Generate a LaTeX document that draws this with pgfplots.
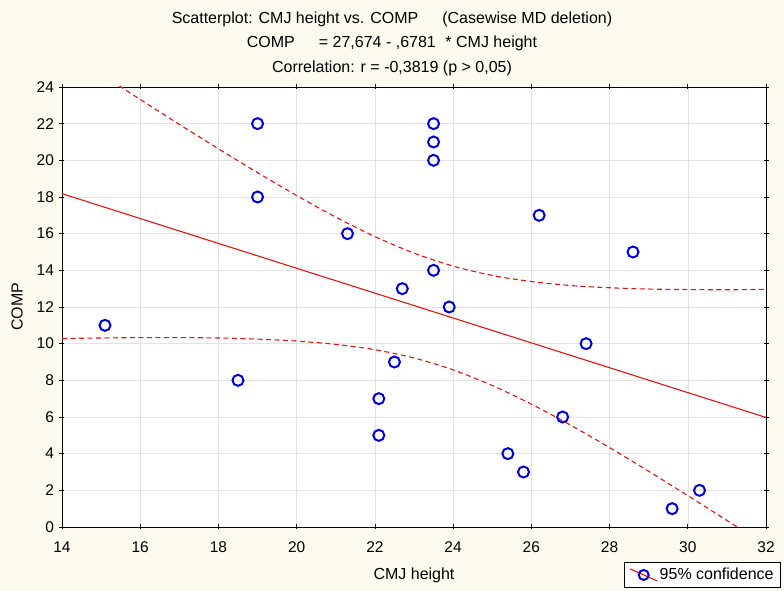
\documentclass[border=0pt]{standalone}
\usepackage{pgfplots}
\pgfplotsset{compat=1.18}
\usepackage{fontspec}
\setmainfont{Liberation Sans}
\definecolor{bgcream}{RGB}{253,250,240}
\definecolor{fitred}{RGB}{225,20,20}
\definecolor{ptblue}{RGB}{0,0,220}
\begin{document}
\begin{tikzpicture}[x=1pt,y=1pt]
\fill[bgcream] (0,0) rectangle (784,591);
\begin{axis}[
  at={(62pt,64pt)}, anchor=south west,
  scale only axis, width=704pt, height=440pt,
  xmin=14, xmax=32, ymin=0, ymax=24,
  xtick={14,16,...,32}, ytick={0,2,...,24},
  axis background/.style={fill=white},
  axis line style={black, line width=0.9pt},
  grid=major, major grid style={gray!22, line width=0.5pt},
  tick align=center, major tick length=5pt,
  tick style={black, line width=0.6pt},
  ticklabel style={font=\fontsize{15.5}{17}\selectfont},
  /pgf/number format/assume math mode=true,
  xticklabel style={anchor=base, yshift=-23pt},
  yticklabel style={xshift=-2pt},
  xlabel={CMJ height}, ylabel={COMP},
  label style={font=\fontsize{16}{18}\selectfont},
  xlabel style={at={(axis description cs:0.5,0)}, anchor=base, yshift=-53pt},
  ylabel style={at={(axis description cs:0,0.5)}, anchor=center, rotate=0, yshift=45pt},
  legend style={at={(1,0)}, anchor=north east, xshift=15pt, yshift=-35pt,
    draw=black, line width=0.8pt, fill=white, font=\fontsize{16}{18}\selectfont,
    inner xsep=5pt, inner ysep=4pt, cells={anchor=west}},
  clip=true,
]
\addplot[only marks, mark=o, mark size=5.5pt, mark options={ptblue, line width=2pt},
  legend image code/.code={
    \draw[fitred, line width=1.1pt] (0pt,6pt) -- (27pt,-6pt);
    \draw[ptblue, line width=2pt] (13.5pt,0pt) circle (5pt);}]
coordinates {
(19.0,22) (19.0,18) (23.5,22) (23.5,21) (23.5,20) (23.5,14)
(21.3,16) (22.7,13) (23.9,12) (15.1,11) (18.5,8) (22.5,9)
(22.1,7) (22.1,5) (26.2,17) (28.6,15) (27.4,10) (26.8,6)
(25.4,4) (25.8,3) (29.6,1) (30.3,2)
};
\addlegendentry{95\% confidence}
\addplot[fitred, line width=1.1pt, forget plot] coordinates {(14,18.181) (32,5.975)};
\addplot[fitred, line width=1.1pt, dash pattern=on 5pt off 3.5pt, smooth, forget plot] coordinates {
(14,26.09) (15,24.70) (15.5,24.01) (16,23.32) (17,21.96) (18,20.63) (19,19.33) (20,18.08)
(21,16.90) (22,15.84) (23,14.94) (24,14.23) (25,13.72) (26,13.39) (27,13.17)
(28,13.05) (29,12.98) (30,12.95) (31,12.94) (32,12.96)};
\addplot[fitred, line width=1.1pt, dash pattern=on 5pt off 3.5pt, smooth, forget plot] coordinates {
(14,10.28) (15,10.31) (16,10.33) (17,10.33) (18,10.31) (19,10.25) (20,10.14)
(21,9.96) (22,9.67) (23,9.22) (24,8.57) (25,7.72) (26,6.70) (27,5.56)
(28,4.33) (29,3.04) (30,1.71) (31,0.36) (32,-1.01)};
\end{axis}
\node[font=\fontsize{16}{18}\selectfont, anchor=base] at (392,567) {Scatterplot: CMJ height vs. COMP\hspace{1.5em}(Casewise MD deletion)};
\node[font=\fontsize{16}{18}\selectfont, anchor=base] at (392,543) {COMP\hspace{1.5em}= 27,674 - ,6781\hspace{0.6em}* CMJ height};
\node[font=\fontsize{16}{18}\selectfont, anchor=base] at (392,518.5) {Correlation: r = -0,3819 (p > 0,05)};
\end{tikzpicture}
\end{document}
